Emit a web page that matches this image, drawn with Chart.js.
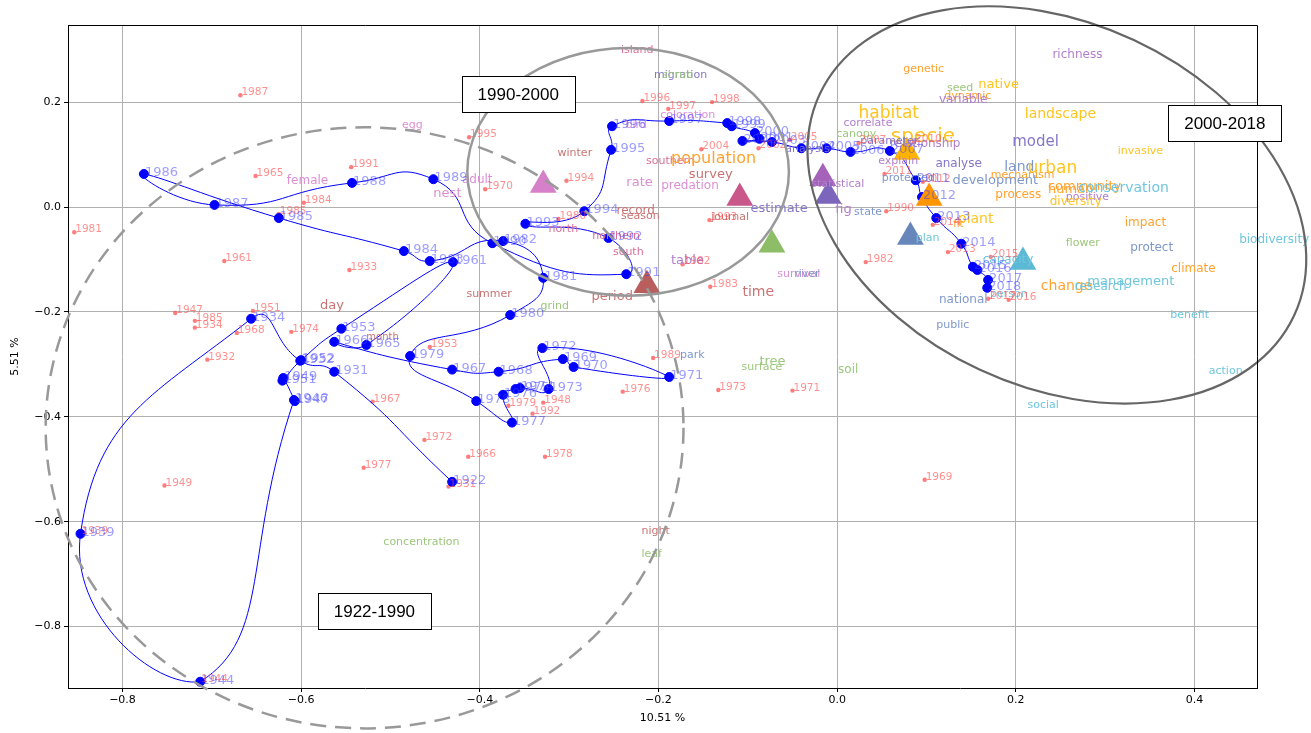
<!DOCTYPE html>
<html>
<head>
<meta charset="utf-8">
<script src="https://cdn.jsdelivr.net/npm/chart.js@4.4.1/dist/chart.umd.min.js"></script>
<style>
html, body { margin: 0; padding: 0; background: #fff; }
</style>
</head>
<body>
<canvas id="myChart" width="1311" height="733"></canvas>
<script>
// trajectory of the years (blue), in drawing order
const trajYears = ['1922','1931','1932','1934','1939','1944','1946','1947','1949','1951','1952','1953','1961','1965','1966','1967','1968','1969','1970','1971','1972','1973','1974','1975','1976','1977','1978','1979','1980','1981','1982','1983','1984','1985','1986','1987','1988','1989','1990','1991','1992','1993','1994','1995','1996','1997','1998','1999','2000','2001','2002','2003','2004','2005','2006','2007','2011','2012','2013','2014','2015','2016','2017','2018']
const trajX = [-0.431,-0.563,-0.601,-0.656,-0.847,-0.713,-0.608,-0.607,-0.620,-0.621,-0.600,-0.555,-0.430,-0.527,-0.563,-0.431,-0.379,-0.307,-0.295,-0.188,-0.330,-0.323,-0.355,-0.360,-0.374,-0.364,-0.404,-0.478,-0.366,-0.329,-0.374,-0.456,-0.485,-0.625,-0.776,-0.697,-0.543,-0.452,-0.386,-0.236,-0.256,-0.349,-0.283,-0.253,-0.252,-0.188,-0.123,-0.118,-0.092,-0.087,-0.106,-0.073,-0.040,-0.012,0.015,0.059,0.088,0.095,0.111,0.139,0.152,0.157,0.169,0.168]
const trajY = [-0.524,-0.314,-0.293,-0.213,-0.623,-0.905,-0.368,-0.370,-0.326,-0.331,-0.292,-0.232,-0.105,-0.263,-0.257,-0.310,-0.314,-0.290,-0.305,-0.324,-0.269,-0.347,-0.345,-0.347,-0.358,-0.411,-0.370,-0.284,-0.206,-0.135,-0.065,-0.103,-0.084,-0.021,0.063,0.004,0.046,0.053,-0.069,-0.128,-0.059,-0.032,-0.008,0.109,0.154,0.164,0.160,0.154,0.141,0.130,0.126,0.124,0.112,0.112,0.105,0.107,0.051,0.019,-0.021,-0.070,-0.114,-0.120,-0.139,-0.154]

// supplementary years (red dots)
const redYears = ['1987','1965','1991','1984','1981','1985','1961','1933','1947','1985','1934','1951','1968','1974','1932','1967','1977','1949','1939','1944','1995','1970','1994','1980','1996','1997','1998','2004','2002','1953','1972','1966','1978','1979','1948','1992','1976','1989','1982','1931','1983','1973','1971','1982','1990','1993','2013','2014','2015','2016','2017','2012','2011','1969','2005','2007','2010']
const redX = [-0.668,-0.651,-0.544,-0.597,-0.854,-0.625,-0.686,-0.546,-0.741,-0.719,-0.719,-0.654,-0.672,-0.611,-0.705,-0.520,-0.530,-0.753,-0.847,-0.713,-0.412,-0.394,-0.303,-0.312,-0.218,-0.189,-0.140,-0.152,-0.088,-0.456,-0.462,-0.413,-0.327,-0.368,-0.329,-0.341,-0.240,-0.206,-0.173,-0.435,-0.142,-0.133,-0.050,0.032,0.055,-0.143,0.124,0.107,0.172,0.192,0.169,0.096,0.053,0.098,-0.053,0.024,0.086]
const redY = [0.213,0.059,0.076,0.008,-0.048,-0.013,-0.103,-0.120,-0.202,-0.217,-0.230,-0.198,-0.240,-0.238,-0.291,-0.371,-0.497,-0.531,-0.623,-0.905,0.133,0.034,0.050,-0.023,0.202,0.187,0.200,0.110,0.112,-0.267,-0.444,-0.476,-0.476,-0.379,-0.373,-0.394,-0.352,-0.288,-0.109,-0.533,-0.152,-0.349,-0.350,-0.105,-0.008,-0.025,-0.086,-0.034,-0.095,-0.177,-0.175,0.048,0.063,-0.520,0.128,0.122,0.124]

// words (text position = left end of the word, on its baseline)
const words = ['island','migration','shrub','coloration','bird','egg','female','adult','nest','winter','southern','population','survey','rate','predation','record','season','north','northern','south','table','period','summer','grind','day','month','park','tree','surface','soil','night','leaf','concentration','estimate','fig','statistical','state','journal','time','survival','river','plan','public','national','genetic','seed','native','dynamic','variable','habitat','correlate','canopy','specie','relationship','parameter','analysis','explain','analyse','protected','development','land','urban','mechanism','process','plant','fit','model','landscape','richness','invasive','community','human','conservation','positive','diversity','impact','flower','protect','biodiversity','climate','change','research','management','benefit','action','social','capacity','person']
const wordX = [-0.242,-0.205,-0.196,-0.198,-0.237,-0.487,-0.616,-0.420,-0.452,-0.313,-0.214,-0.186,-0.166,-0.236,-0.197,-0.247,-0.242,-0.323,-0.274,-0.251,-0.186,-0.275,-0.415,-0.332,-0.579,-0.527,-0.176,-0.087,-0.107,0.001,-0.219,-0.219,-0.508,-0.097,-0.002,-0.029,0.019,-0.141,-0.106,-0.067,-0.048,0.088,0.111,0.114,0.074,0.123,0.158,0.120,0.114,0.024,0.007,-0.001,0.060,0.059,0.026,-0.058,0.046,0.110,0.050,0.129,0.187,0.213,0.172,0.177,0.135,0.130,0.196,0.210,0.241,0.314,0.236,0.236,0.270,0.256,0.238,0.322,0.256,0.328,0.450,0.374,0.228,0.266,0.280,0.373,0.416,0.213,0.163,0.171]
const wordY = [0.293,0.246,0.246,0.170,0.150,0.150,0.044,0.046,0.019,0.097,0.082,0.084,0.055,0.040,0.034,-0.013,-0.023,-0.048,-0.061,-0.091,-0.109,-0.177,-0.171,-0.194,-0.194,-0.253,-0.288,-0.301,-0.310,-0.316,-0.623,-0.667,-0.644,-0.010,-0.011,0.038,-0.015,-0.025,-0.170,-0.133,-0.133,-0.065,-0.230,-0.183,0.257,0.221,0.227,0.206,0.198,0.170,0.154,0.133,0.124,0.114,0.120,0.105,0.082,0.076,0.050,0.044,0.069,0.065,0.055,0.017,-0.030,-0.038,0.116,0.170,0.284,0.101,0.032,0.027,0.029,0.013,0.004,-0.036,-0.074,-0.084,-0.069,-0.124,-0.158,-0.158,-0.149,-0.211,-0.318,-0.383,-0.107,-0.171]
const wordGroup = ['rose','indigo','green','pink','pink','pink','pink','pink','pink','brown','rose','orange','brown','pink','pink','brown','brown','rose','rose','rose','purple','brown','brown','green','brown','brown','steel','green','green','green','brown','green','green','indigo','purple','purple','steel','brown','brown','pink','steel','cyan','steel','steel','orange','green','gold','orange','purple','gold','purple','green','gold','purple','indigo','indigo','purple','indigo','steel','steel','steel','gold','orange','orange','gold','orange','indigo','gold','purple','gold','orange','orange','cyan','purple','gold','orange','green','steel','cyan','orange','orange','cyan','cyan','cyan','cyan','cyan','cyan','cyan']
const wordWeight = [11,11,11,11,11,11,12,12,13,11,11,16,13,13,12,12,11,11,11,11,13,13,11,11,13,10,11,13,11,12,11,11,11,13,13,11,11,11,14,11,11,11,11,12,11,11,13,11,12,17,11,11,20,12,11,11,11,12,11,13,14,17,11,12,14,10,15,14,12,11,13,13,14,11,12,12,11,12,12,12,14,12,13,11,11,11,12,11]

// group centroids (triangles)
const triGroup = ['pink','rose','brown','green','purple','indigo','gold','orange','steel','cyan']
const triX = [-0.329,-0.109,-0.213,-0.073,-0.016,-0.010,0.078,0.103,0.082,0.208]
const triY = [0.042,0.017,-0.149,-0.072,0.055,0.021,0.105,0.017,-0.057,-0.105]

// period boxes
const periodLabels = ['1922-1990','1990-2000','2000-2018']
const periodX = [-0.518,-0.357,0.434]
const periodY = [-0.771,0.215,0.160]

const groupColors = {
    pink: '#dc8fd5', rose: '#d96f96', brown: '#c97474', green: '#9cc77c',
    purple: '#b27fcd', indigo: '#8676c9', gold: '#ffc41f', orange: '#ffa22e',
    steel: '#7f98cc', cyan: '#6fc6dd'
}
const triColors = {
    pink: '#d680c9', rose: '#c9578a', brown: '#b95d5d', green: '#8dbd66',
    purple: '#a462b9', indigo: '#7b66bb', gold: '#ffb300', orange: '#ff9500',
    steel: '#6787bb', cyan: '#5cb9d5'
}

// period ellipses: centre, semi-axes (x units / y units), rotation in degrees (screen, clockwise)
const regions = [
    { cx: -0.529, cy: -0.421, rx: 0.357, ry: 0.573, rot: 0, color: '#999999', width: 2.5, dash: [16, 9] },
    { cx: -0.234, cy: 0.067, rx: 0.180, ry: 0.236, rot: 0, color: '#999999', width: 2.5, dash: [] },
    { cx: 0.246, cy: 0.004, rx: 0.293, ry: 0.347, rot: 25, color: '#666666', width: 2.2, dash: [] }
]

const FONT = '"DejaVu Sans", sans-serif'

const overlay = {
    id: 'overlay',
    afterDatasetsDraw(chart) {
        const { ctx, scales: { x, y }, chartArea: a } = chart
        ctx.save()
        ctx.textBaseline = 'alphabetic'
        ctx.textAlign = 'left'

        // words
        words.forEach((w, i) => {
            ctx.font = wordWeight[i] + 'px ' + FONT
            ctx.fillStyle = groupColors[wordGroup[i]]
            ctx.fillText(w, x.getPixelForValue(wordX[i]), y.getPixelForValue(wordY[i]))
        })

        // red year labels
        ctx.font = '10.5px ' + FONT
        ctx.fillStyle = 'rgba(255,70,70,0.6)'
        redYears.forEach((t, i) => {
            ctx.fillText(t, x.getPixelForValue(redX[i]) + 1, y.getPixelForValue(redY[i]))
        })

        // blue year labels
        ctx.font = '13px ' + FONT
        ctx.fillStyle = 'rgba(60,60,255,0.5)'
        trajYears.forEach((t, i) => {
            ctx.fillText(t, x.getPixelForValue(trajX[i]) + 1, y.getPixelForValue(trajY[i]) + 2)
        })

        // ellipses
        regions.forEach(r => {
            const px = x.getPixelForValue(r.cx)
            const py = y.getPixelForValue(r.cy)
            const rx = Math.abs(x.getPixelForValue(r.cx + r.rx) - px)
            const ry = Math.abs(y.getPixelForValue(r.cy + r.ry) - py)
            ctx.beginPath()
            ctx.ellipse(px, py, rx, ry, r.rot * Math.PI / 180, 0, Math.PI * 2)
            ctx.strokeStyle = r.color
            ctx.lineWidth = r.width
            ctx.setLineDash(r.dash)
            ctx.stroke()
        })
        ctx.setLineDash([])

        // top and right spines
        ctx.strokeStyle = '#000'
        ctx.lineWidth = 1
        ctx.beginPath()
        ctx.moveTo(a.left, a.top + 0.5)
        ctx.lineTo(a.right + 0.5, a.top + 0.5)
        ctx.lineTo(a.right + 0.5, a.bottom)
        ctx.stroke()

        // period boxes
        ctx.font = '17px "Liberation Sans", Arial, sans-serif'
        ctx.textAlign = 'center'
        ctx.textBaseline = 'middle'
        periodLabels.forEach((t, i) => {
            const px = x.getPixelForValue(periodX[i])
            const py = y.getPixelForValue(periodY[i])
            const w = ctx.measureText(t).width + 32
            const h = 36
            ctx.fillStyle = '#fff'
            ctx.fillRect(px - w / 2, py - h / 2, w, h)
            ctx.strokeStyle = '#000'
            ctx.lineWidth = 1
            ctx.strokeRect(Math.round(px - w / 2) + 0.5, Math.round(py - h / 2) + 0.5, Math.round(w), h)
            ctx.fillStyle = '#000'
            ctx.fillText(t, px, py + 1)
        })
        ctx.restore()
    }
}

const fmt = v => {
    const s = Math.abs(v) < 1e-9 ? '0.0' : v.toFixed(1)
    return s.replace('-', '\u2212')
}

const ctx = document.getElementById('myChart')

new Chart(ctx, {
    type: 'scatter',
    data: {
        datasets: [
            {
                label: 'centroids',
                data: triX.map((v, i) => ({ x: v, y: triY[i] })),
                pointStyle: 'triangle',
                pointRadius: 15.5,
                pointBackgroundColor: triGroup.map(g => triColors[g]),
                pointBorderColor: triGroup.map(g => triColors[g]),
                borderWidth: 0,
                order: 1
            },
            {
                label: 'years',
                data: trajX.map((v, i) => ({ x: v, y: trajY[i] })),
                showLine: true,
                tension: 0.55,
                borderColor: '#0000ff',
                borderWidth: 1,
                pointRadius: 4.5,
                pointBackgroundColor: '#0000ff',
                pointBorderColor: '#0000ff',
                order: 2
            },
            {
                label: 'supplementary',
                data: redX.map((v, i) => ({ x: v, y: redY[i] })),
                pointRadius: 2.2,
                pointBackgroundColor: 'rgba(255,80,80,0.75)',
                pointBorderWidth: 0,
                order: 3
            }
        ]
    },
    options: {
        responsive: false,
        animation: false,
        events: [],
        layout: { autoPadding: false, padding: { top: 25, right: 54, left: 0, bottom: 0 } },
        plugins: { legend: { display: false }, tooltip: { enabled: false } },
        scales: {
            x: {
                type: 'linear',
                min: -0.861,
                max: 0.470,
                afterFit: s => { s.height = 45 },
                ticks: { stepSize: 0.2, includeBounds: false, callback: fmt, color: '#000', font: { family: FONT, size: 11 }, padding: 2 },
                grid: { color: '#b0b0b0', lineWidth: 1, tickColor: '#000', tickLength: 4 },
                border: { display: true, color: '#000', width: 1 },
                title: { display: true, text: '10.51 %', color: '#000', font: { family: FONT, size: 11 }, padding: { top: 0, bottom: 8 } }
            },
            y: {
                type: 'linear',
                min: -0.917,
                max: 0.347,
                afterFit: s => { s.width = 68 },
                ticks: { stepSize: 0.2, includeBounds: false, callback: fmt, color: '#000', font: { family: FONT, size: 11 }, padding: 3 },
                grid: { color: '#b0b0b0', lineWidth: 1, tickColor: '#000', tickLength: 4 },
                border: { display: true, color: '#000', width: 1 },
                title: { display: true, text: '5.51 %', color: '#000', font: { family: FONT, size: 11 }, padding: { top: 9, bottom: 0 } }
            }
        }
    },
    plugins: [overlay]
})
</script>
</body>
</html>
